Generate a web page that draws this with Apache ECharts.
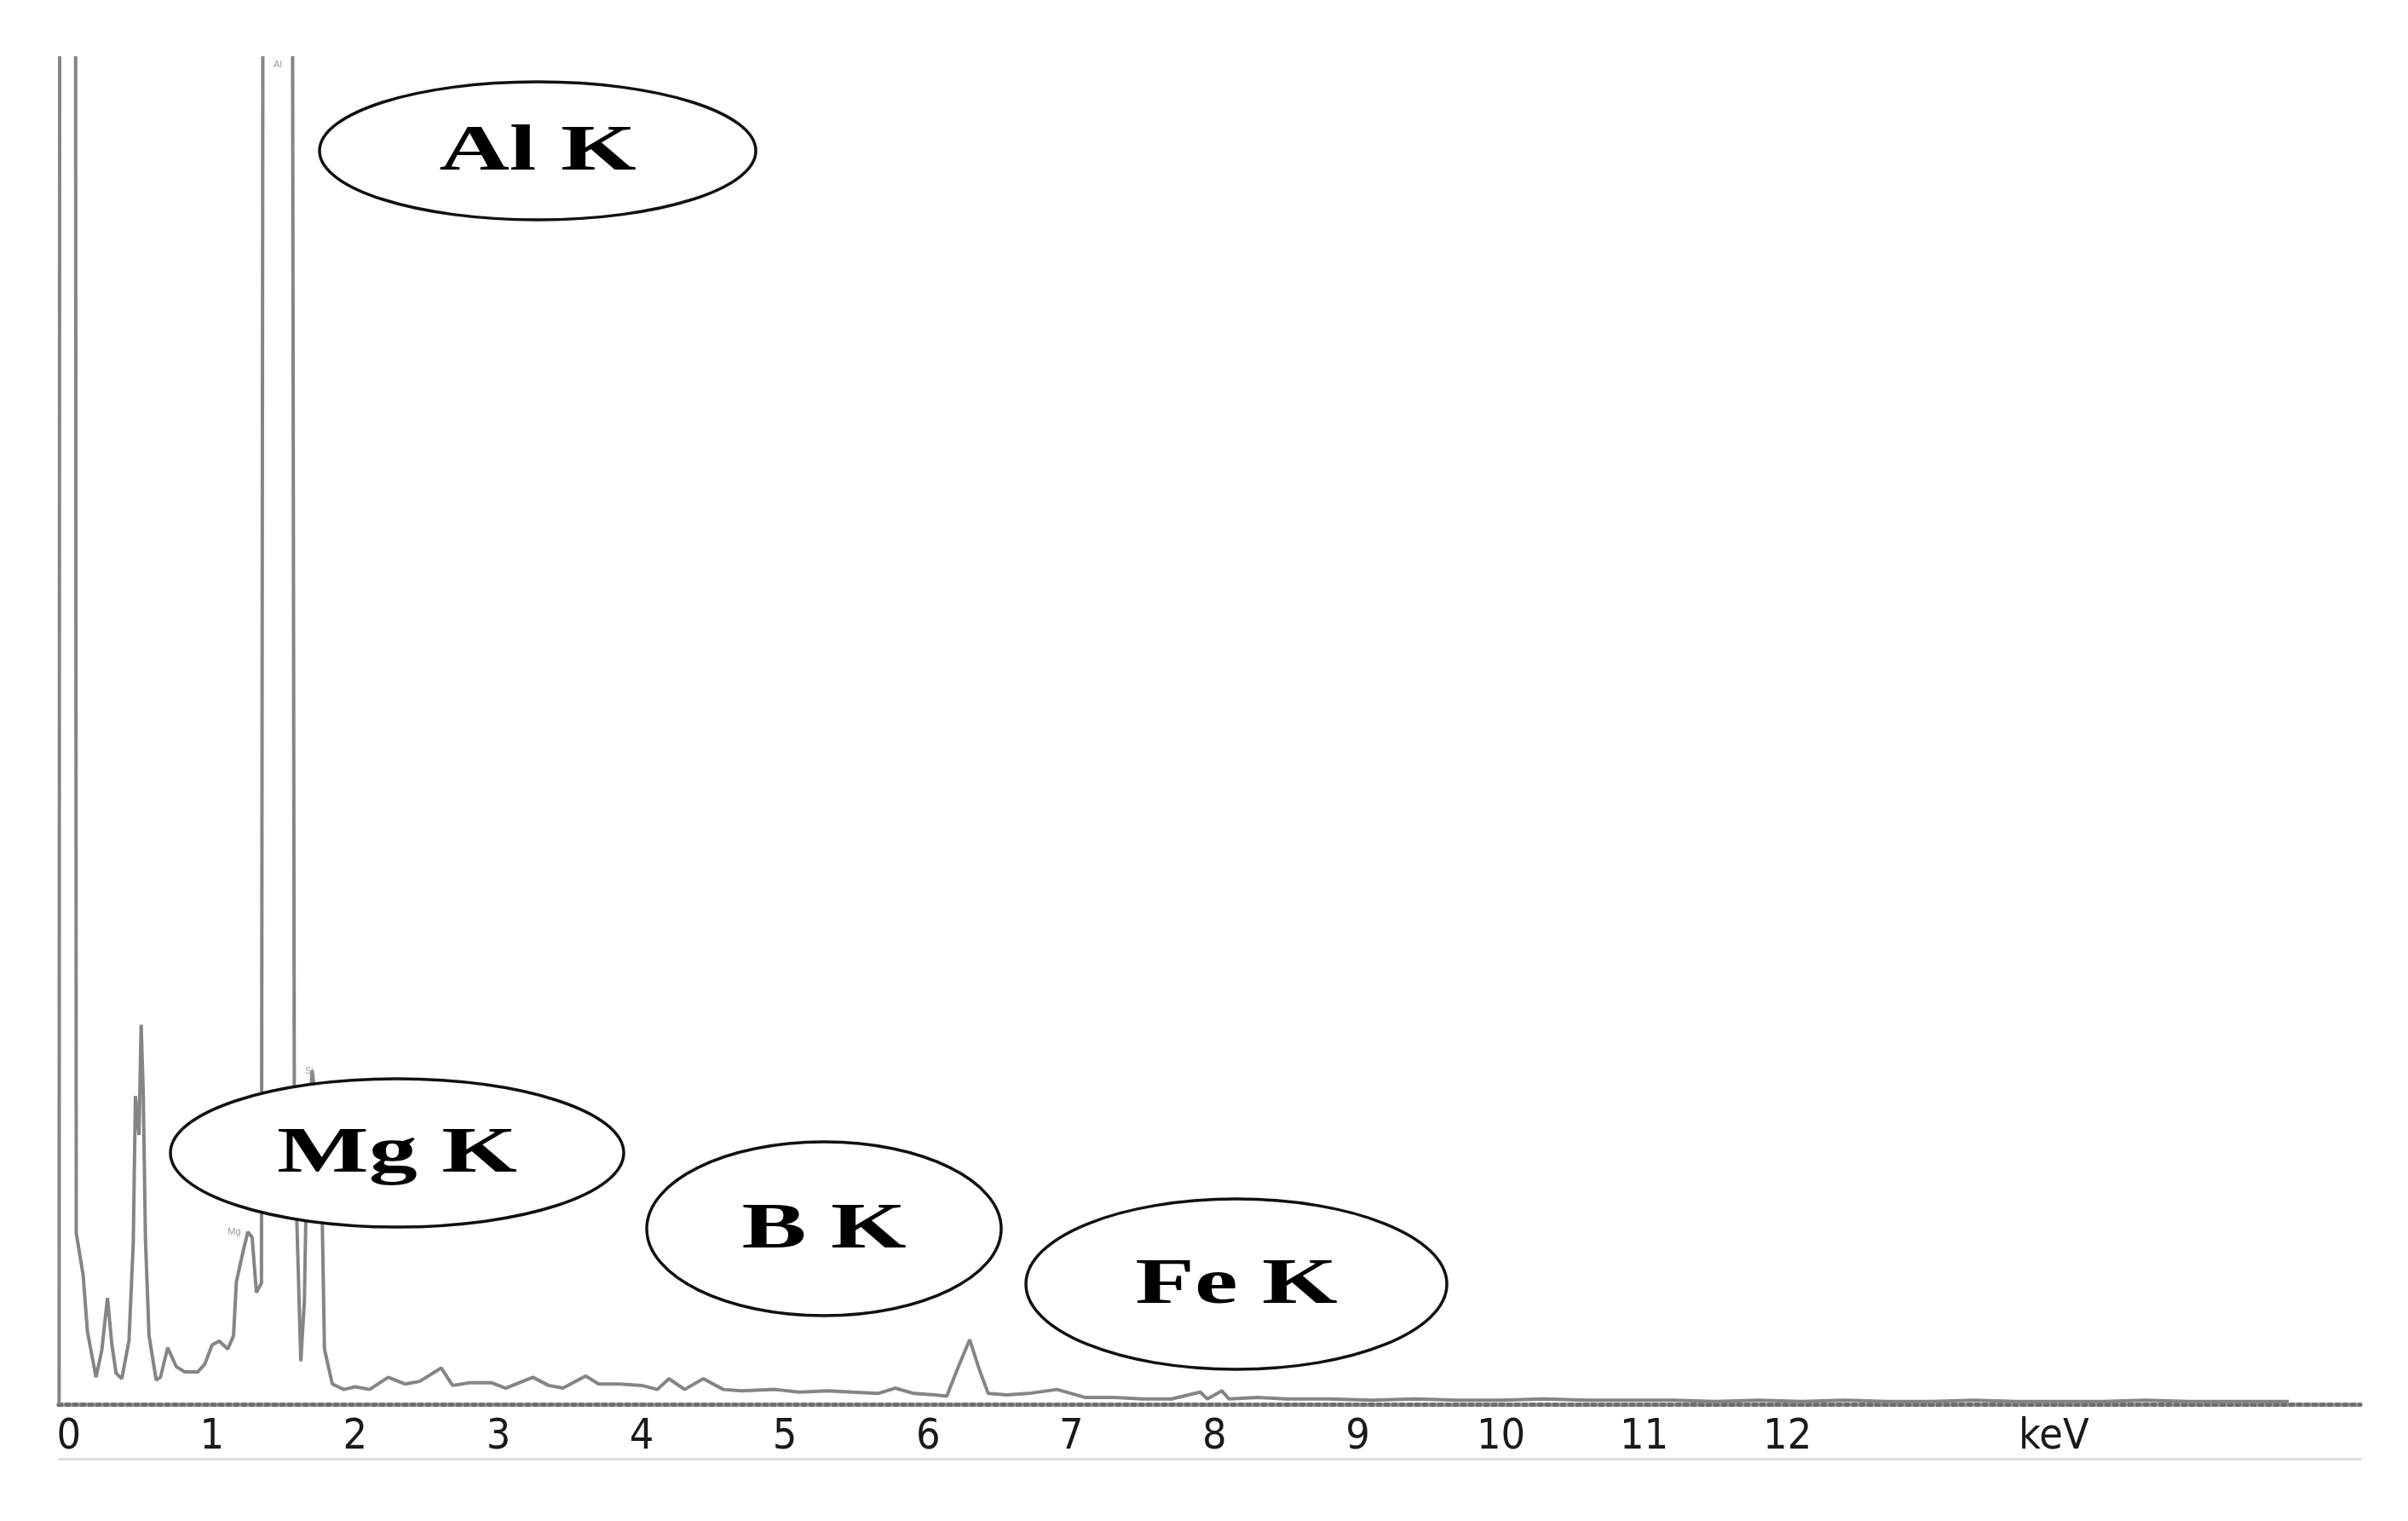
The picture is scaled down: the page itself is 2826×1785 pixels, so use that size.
<!DOCTYPE html>
<html><head><meta charset="utf-8">
<script src="https://cdn.jsdelivr.net/npm/echarts@6/dist/echarts.min.js"></script>
<style>html,body{margin:0;padding:0;background:#fff}#c{width:2826px;height:1785px}</style>
</head><body><div id="c"></div>
<script>
// Energy (keV) and counts (arbitrary units, plot top = 1000; values above are clipped)
const energyKeV = [
  -0.068, -0.062, 0.045, 0.052, 0.10, 0.13, 0.19, 0.23, 0.27, 0.30, 0.33, 0.37, 0.42, 0.45, 0.465, 0.49, 0.505, 0.52, 0.535, 0.56, 0.61,
  0.64, 0.69, 0.75, 0.81, 0.90, 0.95, 1.00, 1.05, 1.11, 1.15, 1.17, 1.22, 1.25, 1.28, 1.31, 1.345, 1.36, 1.555, 1.575, 1.62,
  1.645, 1.665, 1.70, 1.745, 1.77, 1.785, 1.84, 1.92, 2.00, 2.10, 2.23, 2.35, 2.45, 2.60, 2.68, 2.80, 2.95, 3.05, 3.24, 3.35,
  3.45, 3.61, 3.70, 3.85, 4.00, 4.11, 4.19, 4.30, 4.43, 4.57, 4.70, 4.93, 5.10, 5.30, 5.47, 5.65, 5.77, 5.90, 6.05, 6.13,
  6.20, 6.29, 6.36, 6.42, 6.55, 6.70, 6.90, 7.00, 7.10, 7.30, 7.50, 7.70, 7.90, 7.95, 8.05, 8.10, 8.30, 8.50, 8.80, 9.10,
  9.40, 9.70, 10.0, 10.3, 10.6, 10.9, 11.2, 11.5, 11.8, 12.1, 12.4, 12.7, 13.0, 13.3, 13.6, 13.9, 14.2, 14.5, 14.8, 15.1, 15.5
];
const counts = [
  0, 1500, 1500, 127, 96, 54, 20, 40, 79, 45, 23, 19, 47, 120, 229, 200, 282, 230, 123, 51, 18,
  20, 42, 28, 24, 24, 30, 44, 47, 41, 51, 91, 115, 128, 124, 83, 90, 1500, 1500, 200, 32,
  77, 200, 248, 200, 134, 41, 15, 11, 13, 11, 20, 15, 17, 27, 14, 16, 16, 12, 20, 14,
  12, 21, 15, 15, 14, 11, 19, 11, 19, 11, 10, 11, 9, 10, 9, 8, 12, 8, 7, 6,
  25, 48, 25, 8, 7, 8, 11, 8, 5, 5, 4, 4, 9, 4, 10, 4, 5, 4, 4, 3,
  4, 3, 3, 4, 3, 3, 3, 2, 3, 2, 3, 2, 2, 3, 2, 2, 2, 3, 2, 2, 2
];
const tickValues = [0, 1, 2, 3, 4, 5, 6, 7, 8, 9, 10, 11, 12];
const unitLabel = 'keV';
const unitLabelPos = 13.86;
const peakNames = ['Al K', 'Mg K', 'B K', 'Fe K'];
const lineTags = ['Al', 'Mg', 'Si'];

const chart = echarts.init(document.getElementById('c'), null, {renderer: 'canvas'});
const labelFont = '"Liberation Sans Narrow", "DejaVu Sans Condensed", "Liberation Sans", sans-serif';

const ellipses = [
  {cx: 631, cy: 177, rx: 256, ry: 81, name: peakNames[0]},
  {cx: 466, cy: 1353, rx: 266, ry: 87, name: peakNames[1]},
  {cx: 967, cy: 1442, rx: 208, ry: 102, name: peakNames[2]},
  {cx: 1451, cy: 1507, rx: 247, ry: 100, name: peakNames[3]}
];
const graphics = [];
ellipses.forEach(e => {
  graphics.push({type: 'ellipse', z: 100, shape: {cx: e.cx, cy: e.cy, rx: e.rx, ry: e.ry},
    style: {fill: '#fff', stroke: '#111', lineWidth: 3.5}});
  graphics.push({type: 'text', z: 101, x: e.cx, y: e.cy + 2, scaleX: 1.5,
    style: {text: e.name, font: 'bold 76px "Liberation Serif", "Times New Roman", serif',
      fill: '#000', align: 'center', verticalAlign: 'middle'}});
});
[[326, 76, lineTags[0]], [275, 1446, lineTags[1]], [363, 1257, lineTags[2]]].forEach(t => {
  graphics.push({type: 'text', z: 50, x: t[0], y: t[1],
    style: {text: t[2], font: '11px "Liberation Sans", sans-serif', fill: '#999', align: 'center', verticalAlign: 'middle'}});
});

chart.setOption({
  animation: false,
  backgroundColor: '#fff',
  grid: {left: 69, right: 56, top: 68, bottom: 137},
  xAxis: [
    {type: 'value', min: -0.07, max: 16.0, position: 'bottom',
      axisLine: {show: true, onZero: false, lineStyle: {color: '#a6a6a6', width: 5}},
      axisTick: {show: false},
      splitLine: {show: false},
      axisLabel: {show: true, customValues: tickValues.concat([unitLabelPos]), margin: 14,
        color: '#1a1a1a', fontSize: 50, fontFamily: labelFont,
        formatter: v => (v > 12.5 ? unitLabel : String(Math.round(v)))}
    },
    {type: 'value', min: -0.07, max: 16.0, position: 'bottom', offset: 0,
      axisLine: {show: true, onZero: false, lineStyle: {color: '#6e6e6e', width: 5, type: [3, 6]}},
      axisTick: {show: false}, axisLabel: {show: false}, splitLine: {show: false}
    },
    {type: 'value', min: -0.07, max: 16.0, position: 'bottom', offset: 64,
      axisLine: {show: true, onZero: false, lineStyle: {color: '#dedede', width: 3}},
      axisTick: {show: false}, axisLabel: {show: false}, splitLine: {show: false}
    }
  ],
  yAxis: {type: 'value', min: 0, max: 1000, show: false},
  series: [{
    type: 'line', xAxisIndex: 0, yAxisIndex: 0, showSymbol: false, clip: true,
    lineStyle: {color: '#858585', width: 4},
    data: energyKeV.map((e, i) => [e, counts[i]])
  }],
  graphic: graphics
});
</script>
</body></html>
